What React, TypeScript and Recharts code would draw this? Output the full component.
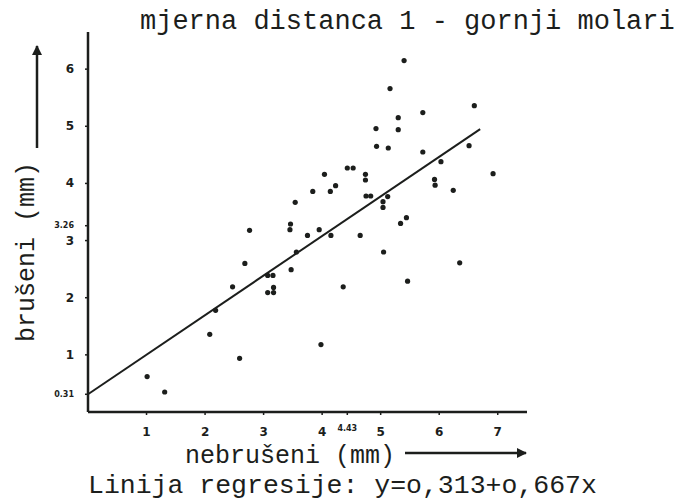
import { ReferenceLine, Scatter, ScatterChart, XAxis, YAxis } from "recharts";

const nebruseni = [
  5.40, 5.16, 5.30, 5.30, 4.92, 4.93, 5.13, 4.43, 4.53, 4.04,
  4.74, 4.74, 4.23, 3.84, 4.14, 4.75, 4.83, 5.12, 5.04, 5.04,
  3.54, 2.76, 3.46, 3.45, 3.75, 3.95, 4.15, 4.65, 5.72, 6.60,
  5.72, 6.51, 6.03, 6.92, 5.92, 5.93, 6.24, 5.44, 5.34, 5.05,
  3.56, 2.68, 3.47, 3.07, 3.16, 2.47, 3.17, 3.07, 3.17, 4.36,
  2.18, 2.08, 3.98, 2.59, 1.01, 1.31, 6.35, 5.46,
];
const bruseni = [
  6.15, 5.66, 5.15, 4.94, 4.96, 4.65, 4.62, 4.27, 4.27, 4.16,
  4.16, 4.06, 3.96, 3.86, 3.86, 3.78, 3.78, 3.77, 3.68, 3.58,
  3.67, 3.18, 3.29, 3.19, 3.09, 3.19, 3.09, 3.09, 5.24, 5.36,
  4.55, 4.66, 4.38, 4.17, 4.07, 3.97, 3.88, 3.40, 3.30, 2.80,
  2.80, 2.60, 2.49, 2.39, 2.39, 2.19, 2.18, 2.09, 2.09, 2.19,
  1.78, 1.36, 1.18, 0.94, 0.62, 0.35, 2.61, 2.29,
];

// regression line end points: y = 0.313 + 0.667x
const regressionX = [0, 6.7];
const regressionY = [0.31, 4.95];

const xTicks = [1, 2, 3, 4, 4.43, 5, 6, 7];
const yTicks = [0.31, 1, 2, 3, 3.26, 4, 5, 6];
const smallTicks = [0.31, 3.26, 4.43];

const points = nebruseni.map((x, i) => ({ x, y: bruseni[i] }));

const ink = "#1c1e1c";
const mono = "'Liberation Mono', 'DejaVu Sans Mono', monospace";

function XTick(props: any) {
  const { x, y, payload } = props;
  const small = smallTicks.includes(payload.value);
  return (
    <text
      x={x}
      y={small ? y - 4 : y}
      textAnchor="middle"
      dominantBaseline="central"
      fontFamily="'DejaVu Sans', sans-serif"
      fontWeight="bold"
      fontSize={small ? 8 : 12}
      fill={ink}
    >
      {payload.value}
    </text>
  );
}

function YTick(props: any) {
  const { x, y, payload } = props;
  const small = smallTicks.includes(payload.value);
  return (
    <text
      x={x}
      y={y}
      textAnchor="end"
      dominantBaseline="central"
      fontFamily="'DejaVu Sans', sans-serif"
      fontWeight="bold"
      fontSize={small ? 8 : 12}
      fill={ink}
    >
      {payload.value}
    </text>
  );
}

export default function App() {
  return (
    <div style={{ position: "absolute", left: 0, top: 0, width: 697, height: 501, background: "#fff" }}>
      <ScatterChart
        width={697}
        height={501}
        margin={{ top: 32, right: 170, bottom: 59, left: 48 }}
      >
        <XAxis
          type="number"
          dataKey="x"
          domain={[0, 7.5]}
          ticks={xTicks}
          height={30}
          tickSize={3}
          tickMargin={17}
          tick={<XTick />}
          axisLine={{ stroke: ink, strokeWidth: 2.5 }}
          tickLine={{ stroke: ink, strokeWidth: 1.5 }}
          interval={0}
        />
        <YAxis
          type="number"
          dataKey="y"
          domain={[0, 6.65]}
          ticks={yTicks}
          width={40}
          tickSize={3}
          tickMargin={11}
          tick={<YTick />}
          axisLine={{ stroke: ink, strokeWidth: 2.5 }}
          tickLine={{ stroke: ink, strokeWidth: 1.5 }}
          interval={0}
        />
        <ReferenceLine
          segment={[
            { x: regressionX[0], y: regressionY[0] },
            { x: regressionX[1], y: regressionY[1] },
          ]}
          stroke={ink}
          strokeWidth={2}
        />
        <Scatter
          data={points}
          isAnimationActive={false}
          shape={(p: any) => <circle cx={p.cx} cy={p.cy} r={2.6} fill={ink} />}
        />
      </ScatterChart>
      <svg
        width={697}
        height={501}
        style={{ position: "absolute", left: 0, top: 0, pointerEvents: "none" }}
      >
        <defs>
          <marker id="arr" viewBox="0 0 10 10" refX="9" refY="5" markerWidth="4" markerHeight="4" orient="auto">
            <path d="M0,0 L10,5 L0,10 z" fill={ink} />
          </marker>
        </defs>
        <text x={140} y={29} fontFamily={mono} fontSize={27} fill={ink}>
          mjerna distanca 1 - gornji molari
        </text>
        <text
          transform="translate(34,252) rotate(-90)"
          textAnchor="middle"
          fontFamily={mono}
          fontSize={25}
          fill={ink}
        >
          brušeni (mm)
        </text>
        <line x1={37} y1={148} x2={37} y2={46} stroke={ink} strokeWidth={2.5} markerEnd="url(#arr)" />
        <text x={290} y={463} textAnchor="middle" fontFamily={mono} fontSize={25} fill={ink}>
          nebrušeni (mm)
        </text>
        <line x1={405} y1={453} x2={526} y2={453} stroke={ink} strokeWidth={2.5} markerEnd="url(#arr)" />
        <text x={88} y={493} fontFamily={mono} fontSize={26.5} fill={ink}>
          Linija regresije: y=o,313+o,667x
        </text>
      </svg>
    </div>
  );
}
